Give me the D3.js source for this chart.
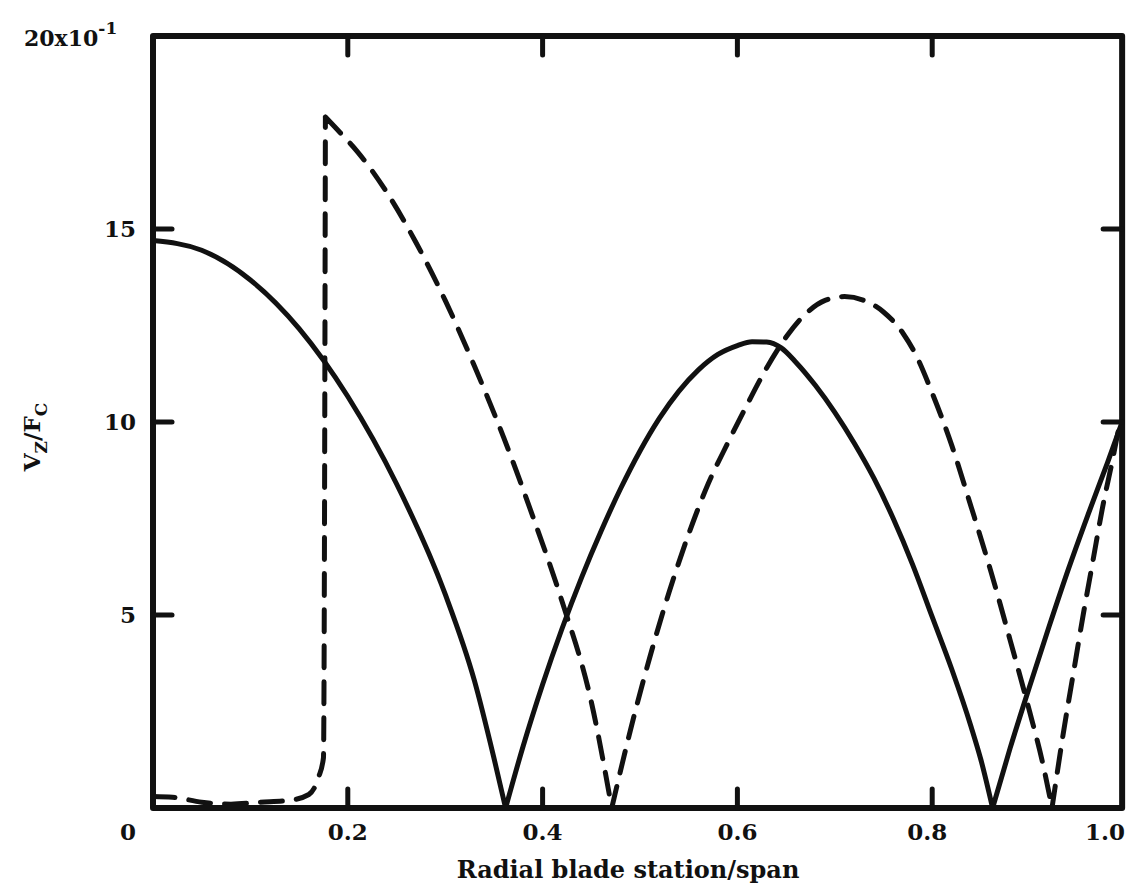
<!DOCTYPE html>
<html>
<head>
<meta charset="utf-8">
<script src="https://cdn.jsdelivr.net/npm/d3@7"></script>
<style>
  html, body { margin: 0; padding: 0; background: #fff; }
  svg { display: block; }
  text { font-family: "DejaVu Serif", "Liberation Serif", serif; fill: #111; font-weight: bold; }
</style>
</head>
<body>
<svg id="chart" width="1131" height="890"></svg>
<script>
// ---- data ----
const xTicks = [0.2, 0.4, 0.6, 0.8];
const xTickLabels = ["0", "0.2", "0.4", "0.6", "0.8", "1.0"];
const yTicks = [5, 10, 15];
const yTickLabels = ["5", "10", "15"];
const xTitle = "Radial blade station/span";

// solid curve
const solidX = [0, 0.05, 0.1, 0.15, 0.2, 0.25, 0.3, 0.33, 0.35, 0.362,
  0.38, 0.40, 0.42, 0.44, 0.46, 0.48, 0.50, 0.52, 0.54, 0.56, 0.58, 0.60, 0.615, 0.63, 0.645, 0.66, 0.68, 0.70, 0.72, 0.74, 0.76, 0.78, 0.80, 0.82, 0.84, 0.85, 0.862,
  0.88, 0.90, 0.92, 0.94, 0.96, 0.98, 0.995];
const solidY = [14.7, 14.45, 13.68, 12.42, 10.66, 8.4, 5.54, 3.3, 1.3, 0.0,
  1.6, 3.2, 4.65, 5.97, 7.17, 8.27, 9.25, 10.1, 10.8, 11.35, 11.75, 11.98, 12.08, 12.07, 11.92, 11.55, 10.95, 10.25, 9.45, 8.55, 7.5, 6.3, 4.95, 3.6, 2.1, 1.25, 0.0,
  1.55, 3.15, 4.7, 6.2, 7.6, 8.95, 10.0];

// dashed curve
const dashX = [0, 0.02, 0.05, 0.08, 0.11, 0.14, 0.16, 0.17, 0.175, 0.177,
  0.192, 0.21, 0.24, 0.27, 0.30, 0.33, 0.36, 0.39, 0.42, 0.45, 0.471,
  0.49, 0.51, 0.53, 0.55, 0.57, 0.59, 0.61, 0.63, 0.65, 0.67, 0.69, 0.71, 0.73, 0.75, 0.77, 0.784, 0.80, 0.82, 0.84, 0.86, 0.88, 0.90, 0.914, 0.923,
  0.935, 0.945, 0.955, 0.965, 0.975, 0.985, 0.992];
const dashY = [0.3, 0.28, 0.15, 0.1, 0.15, 0.2, 0.35, 0.8, 1.3, 17.9,
  17.5, 17.0, 15.95, 14.65, 13.15, 11.45, 9.6, 7.55, 5.35, 2.75, 0.0,
  2.0, 3.9, 5.6, 7.1, 8.4, 9.45, 10.45, 11.4, 12.2, 12.8, 13.15, 13.25, 13.15, 12.85, 12.3, 11.7, 10.75, 9.4, 7.8, 6.15, 4.35, 2.5, 1.1, 0.0,
  2.0, 3.5, 5.0, 6.4, 7.8, 9.0, 9.9];

(function () {
const svg = d3.select("#chart");
const x = d3.scaleLinear().domain([0, 1]).range([153, 1127]);
const y = d3.scaleLinear().domain([0, 20]).range([808, 36]);
const xMax = 0.995;
const pLeft = x(0), pRight = x(xMax), pTop = y(20), pBottom = y(0);
const tickLen = 19;
const FS = 23;

// split a series into smooth pieces at its sharp corners (zeros and the jump top)
function pieces(xs, ys) {
  const pts = xs.map((v, i) => [v, ys[i]]);
  const out = [];
  let cur = [pts[0]];
  for (let i = 1; i < pts.length; i++) {
    cur.push(pts[i]);
    const last = i === pts.length - 1;
    const isZero = ys[i] === 0;
    const isJumpTop = ys[i] - ys[i - 1] > 8;
    if (!last && (isZero || isJumpTop)) {
      out.push(cur);
      cur = [pts[i]];
    }
  }
  out.push(cur);
  return out;
}
const line = d3.line().x(d => x(d[0])).y(d => y(d[1])).curve(d3.curveMonotoneX);
const pathOf = segs => segs.map(s => line(s)).join("");

svg.append("path")
  .attr("d", pathOf(pieces(solidX, solidY)))
  .attr("fill", "none").attr("stroke", "#111").attr("stroke-width", 5)
  .attr("stroke-linejoin", "round").attr("stroke-linecap", "round");
svg.append("path")
  .attr("d", pathOf(pieces(dashX, dashY)))
  .attr("fill", "none").attr("stroke", "#111").attr("stroke-width", 5)
  .attr("stroke-dasharray", "22,14")
  .attr("stroke-linejoin", "round").attr("stroke-linecap", "round");

// frame
svg.append("rect")
  .attr("x", pLeft).attr("y", pTop)
  .attr("width", pRight - pLeft).attr("height", pBottom - pTop)
  .attr("fill", "none").attr("stroke", "#111").attr("stroke-width", 6)
  .attr("stroke-linejoin", "round");

// ticks (inward on all four sides)
const tg = svg.append("g").attr("stroke", "#111").attr("stroke-width", 5).attr("stroke-linecap", "round");
xTicks.forEach(t => {
  tg.append("line").attr("x1", x(t)).attr("x2", x(t)).attr("y1", pBottom).attr("y2", pBottom - tickLen);
  tg.append("line").attr("x1", x(t)).attr("x2", x(t)).attr("y1", pTop).attr("y2", pTop + tickLen);
});
yTicks.forEach(t => {
  tg.append("line").attr("x1", pLeft).attr("x2", pLeft + tickLen).attr("y1", y(t)).attr("y2", y(t));
  tg.append("line").attr("x1", pRight).attr("x2", pRight - tickLen).attr("y1", y(t)).attr("y2", y(t));
});

// x tick labels
const xLabelPos = [0, 0.2, 0.4, 0.6, 0.8, 1.0];
const xLabelShift = [-25, 0, 0, 0, -5, -22];
xLabelPos.forEach((t, i) => {
  svg.append("text").attr("x", x(t) + xLabelShift[i]).attr("y", 840)
    .attr("text-anchor", "middle").attr("font-size", FS).text(xTickLabels[i]);
});

// y tick labels
yTicks.forEach((t, i) => {
  svg.append("text").attr("x", 136).attr("y", y(t) + 8)
    .attr("text-anchor", "end").attr("font-size", FS).text(yTickLabels[i]);
});
const topLab = svg.append("text").attr("x", 24).attr("y", 46).attr("font-size", FS - 1);
topLab.append("tspan").text("20x10");
topLab.append("tspan").attr("dy", -12).attr("font-size", 17).text("-1");

// x title
svg.append("text").attr("x", 628).attr("y", 878)
  .attr("text-anchor", "middle").attr("font-size", FS + 1).text(xTitle);

// y title
const yl = svg.append("text").attr("transform", "translate(40,437) rotate(-90)")
  .attr("text-anchor", "middle").attr("font-size", FS);
yl.append("tspan").text("V");
yl.append("tspan").attr("dy", 7).attr("font-size", 17).text("Z");
yl.append("tspan").attr("dy", -7).text("/F");
yl.append("tspan").attr("dy", 7).attr("font-size", 17).text("C");
})();
</script>
</body>
</html>
